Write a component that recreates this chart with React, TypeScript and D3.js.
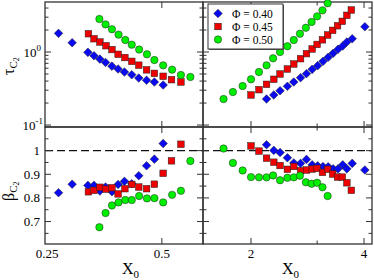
import * as d3 from "d3";

// X0 values (left panel: small X0, right panel: large X0)
const xBlueL = [0.268, 0.291, 0.32, 0.332, 0.344, 0.356, 0.37, 0.384, 0.399, 0.417, 0.435, 0.456, 0.478, 0.504];
const tauBlueL = [1.8, 1.34, 0.99, 0.89, 0.8, 0.72, 0.64, 0.585, 0.532, 0.489, 0.44, 0.41, 0.388, 0.353];
const betaBlueL = [0.822, 0.858, 0.853, 0.853, 0.829, 0.846, 0.826, 0.857, 0.87, 0.86, 0.894, 0.936, 0.964, 1.03];

const xRedL = [0.321, 0.332, 0.344, 0.357, 0.37, 0.384, 0.4, 0.417, 0.435, 0.456, 0.478, 0.504, 0.53, 0.561];
const tauRedL = [1.78, 1.52, 1.37, 1.22, 1.08, 0.93, 0.84, 0.745, 0.66, 0.57, 0.51, 0.465, 0.418, 0.388];
const betaRedL = [0.826, 0.832, 0.845, 0.837, 0.843, 0.817, 0.839, 0.857, 0.846, 0.839, 0.858, 0.904, 0.957, 1.027];

const xGreenL = [0.343, 0.356, 0.37, 0.385, 0.401, 0.417, 0.436, 0.457, 0.478, 0.504, 0.532, 0.561, 0.594];
const tauGreenL = [2.83, 2.39, 2.05, 1.73, 1.46, 1.26, 1.08, 0.93, 0.777, 0.657, 0.573, 0.484, 0.455];
const betaGreenL = [0.676, 0.736, 0.768, 0.781, 0.791, 0.791, 0.808, 0.798, 0.799, 0.781, 0.813, 0.83, 0.956];

const xBlueR = [2.2, 2.3, 2.39, 2.5, 2.6, 2.71, 2.81, 2.91, 3.01, 3.11, 3.21, 3.31, 3.41, 3.51, 3.6, 3.72, 4.02];
const tauBlueR = [0.227, 0.258, 0.295, 0.339, 0.388, 0.445, 0.505, 0.579, 0.65, 0.745, 0.846, 0.96, 1.09, 1.21, 1.37, 1.52, 2.22];
const betaBlueR = [1.025, 1.001, 0.992, 0.97, 0.948, 0.946, 0.963, 0.94, 0.936, 0.933, 0.932, 0.923, 0.923, 0.94, 0.923, 0.946, 0.918];

const xRedR = [2.0, 2.1, 2.2, 2.3, 2.39, 2.5, 2.6, 2.71, 2.81, 2.91, 3.0, 3.1, 3.2, 3.3, 3.4, 3.5, 3.6, 3.7];
const tauRedR = [0.258, 0.305, 0.361, 0.423, 0.5, 0.585, 0.685, 0.81, 0.95, 1.1, 1.27, 1.47, 1.71, 1.98, 2.29, 2.63, 3.18, 3.76];
const betaRedR = [1.02, 0.998, 0.968, 0.951, 0.937, 0.921, 0.933, 0.915, 0.918, 0.922, 0.925, 0.908, 0.921, 0.901, 0.888, 0.888, 0.864, 0.832];

const xGreenR = [1.69, 1.79, 1.9, 2.0, 2.1, 2.2, 2.29, 2.39, 2.5, 2.6, 2.7, 2.8, 2.9, 3.0, 3.1, 3.2];
const tauGreenR = [0.227, 0.283, 0.342, 0.423, 0.532, 0.657, 0.82, 1.0, 1.2, 1.46, 1.78, 2.15, 2.58, 3.08, 3.72, 4.65];
const betaGreenR = [1.009, 0.948, 0.916, 0.888, 0.887, 0.887, 0.895, 0.875, 0.885, 0.887, 0.894, 0.866, 0.86, 0.864, 0.845, 0.808];

const legendLabels = ["\u03a6 = 0.40", "\u03a6 = 0.45", "\u03a6 = 0.50"];
const xTicksL = [0.25, 0.5];
const xTicksR = [2, 4];
const xMinorR = [3];
const yMajorT = [0.1, 1];
const yMinorT = [0.2, 0.3, 0.4, 0.5, 0.6, 0.7, 0.8, 0.9, 2, 3, 4];
const yMajorB = [0.7, 0.8, 0.9, 1];
const yMinorB = [0.65, 0.75, 0.85, 0.95, 1.05];

const FONT = "'Liberation Serif', 'DejaVu Serif', serif";
const AX = "#333";

const L0 = 45, MID = 203, R1 = 372;
const T0 = 2, SEP = 127, B1 = 244;

const xL = d3.scaleLog().domain([0.247, 0.641]).range([L0, MID]);
const xR = d3.scaleLog().domain([1.49, 4.2]).range([MID, R1]);
const yT = d3.scaleLog().domain([0.094, 4.84]).range([SEP, T0]);
const yB = d3.scaleLinear().domain([0.605, 1.1]).range([B1, SEP]);

type Kind = "d" | "s" | "c";
const fills: Record<Kind, string> = { d: "#0a0af0", s: "#ee0000", c: "#00ee00" };

function Marker({ kind, x, y }: { kind: Kind; x: number; y: number }) {
  const st = { fill: fills[kind], stroke: "#222", strokeWidth: 0.5 };
  if (kind === "d") {
    const r = 4.3;
    return <path d={`M${x},${y - r}L${x + r},${y}L${x},${y + r}L${x - r},${y}Z`} {...st} />;
  }
  if (kind === "s") {
    const h = 3.3;
    return <rect x={x - h} y={y - h} width={2 * h} height={2 * h} {...st} />;
  }
  return <circle cx={x} cy={y} r={3.7} {...st} />;
}

function Series({ xs, ys, sx, sy, kind }: { xs: number[]; ys: number[]; sx: any; sy: any; kind: Kind }) {
  return (
    <g>
      {xs.map((v, i) => (
        <Marker key={i} kind={kind} x={sx(v)} y={sy(ys[i])} />
      ))}
    </g>
  );
}

// panel box with inward ticks on all four sides
function Frame({ sx, sy, xMaj, xMin, yMaj, yMin }: any) {
  const [x0, x1] = sx.range();
  const [y0, y1] = sy.range();
  const lines: any[] = [];
  const tick = (key: string, xa: number, ya: number, xb: number, yb: number) =>
    lines.push(<line key={key} x1={xa} y1={ya} x2={xb} y2={yb} stroke={AX} strokeWidth={1} />);
  xMaj.forEach((v: number, i: number) => {
    tick(`xM${i}`, sx(v), y0, sx(v), y0 - 6);
    tick(`xMt${i}`, sx(v), y1, sx(v), y1 + 6);
  });
  xMin.forEach((v: number, i: number) => {
    tick(`xm${i}`, sx(v), y0, sx(v), y0 - 3.5);
    tick(`xmt${i}`, sx(v), y1, sx(v), y1 + 3.5);
  });
  yMaj.forEach((v: number, i: number) => {
    tick(`yM${i}`, x0, sy(v), x0 + 6, sy(v));
    tick(`yMr${i}`, x1, sy(v), x1 - 6, sy(v));
  });
  yMin.forEach((v: number, i: number) => {
    tick(`ym${i}`, x0, sy(v), x0 + 3.5, sy(v));
    tick(`ymr${i}`, x1, sy(v), x1 - 3.5, sy(v));
  });
  return (
    <g>
      {lines}
      <rect x={x0} y={y1} width={x1 - x0} height={y0 - y1} fill="none" stroke={AX} strokeWidth={1.3} />
    </g>
  );
}

export default function App() {
  return (
    <svg
      width={374}
      height={280}
      style={{ position: "absolute", left: 0, top: 0, background: "#fff" }}
      fontFamily={FONT}
    >
      <defs>
        <clipPath id="clipTR"><rect x={MID} y={0} width={R1 - MID} height={SEP} /></clipPath>
      </defs>

      {/* dashed reference line at beta = 1 */}
      <line x1={L0} x2={R1} y1={yB(1)} y2={yB(1)} stroke="#111" strokeWidth={1.3} strokeDasharray="8,4" />

      <Frame sx={xL} sy={yT} xMaj={[0.5]} xMin={[]} yMaj={yMajorT} yMin={yMinorT} />
      <Frame sx={xR} sy={yT} xMaj={xTicksR} xMin={xMinorR} yMaj={yMajorT} yMin={yMinorT} />
      <Frame sx={xL} sy={yB} xMaj={[0.5]} xMin={[]} yMaj={yMajorB} yMin={yMinorB} />
      <Frame sx={xR} sy={yB} xMaj={xTicksR} xMin={xMinorR} yMaj={yMajorB} yMin={yMinorB} />

      {/* tau panels */}
      <Series xs={xBlueL} ys={tauBlueL} sx={xL} sy={yT} kind="d" />
      <Series xs={xRedL} ys={tauRedL} sx={xL} sy={yT} kind="s" />
      <Series xs={xGreenL} ys={tauGreenL} sx={xL} sy={yT} kind="c" />
      <g clipPath="url(#clipTR)">
        <Series xs={xBlueR} ys={tauBlueR} sx={xR} sy={yT} kind="d" />
        <Series xs={xRedR} ys={tauRedR} sx={xR} sy={yT} kind="s" />
        <Series xs={xGreenR} ys={tauGreenR} sx={xR} sy={yT} kind="c" />
      </g>
      {/* beta panels */}
      <Series xs={xBlueL} ys={betaBlueL} sx={xL} sy={yB} kind="d" />
      <Series xs={xRedL} ys={betaRedL} sx={xL} sy={yB} kind="s" />
      <Series xs={xGreenL} ys={betaGreenL} sx={xL} sy={yB} kind="c" />
      <Series xs={xBlueR} ys={betaBlueR} sx={xR} sy={yB} kind="d" />
      <Series xs={xRedR} ys={betaRedR} sx={xR} sy={yB} kind="s" />
      <Series xs={xGreenR} ys={betaGreenR} sx={xR} sy={yB} kind="c" />

      {/* y tick labels top */}
      <text x={41} y={yT(1) + 5} textAnchor="end" fontSize={13}>
        10<tspan dy={-6} fontSize={9}>0</tspan>
      </text>
      <text x={43} y={yT(0.1) + 5} textAnchor="end" fontSize={13}>
        10<tspan dy={-6} fontSize={9}>-1</tspan>
      </text>
      {/* y tick labels bottom */}
      {yMajorB.map((v) => (
        <text key={v} x={40} y={yB(v) + 4.5} textAnchor="end" fontSize={13}>
          {v === 1 ? "1" : d3.format(".1f")(v)}
        </text>
      ))}
      {/* x tick labels */}
      {xTicksL.map((v) => (
        <text key={v} x={xL(v)} y={258} textAnchor="middle" fontSize={13}>
          {String(v)}
        </text>
      ))}
      {xTicksR.map((v) => (
        <text key={v} x={xR(v)} y={258} textAnchor="middle" fontSize={13}>
          {String(v)}
        </text>
      ))}

      {/* axis titles */}
      <text x={122} y={274} fontSize={16}>
        X<tspan dy={4} fontSize={11}>0</tspan>
      </text>
      <text x={282} y={274} fontSize={16}>
        X<tspan dy={4} fontSize={11}>0</tspan>
      </text>
      <text transform="translate(14,75) rotate(-90)" fontSize={16}>
        {"\u03c4"}
        <tspan dy={3} fontSize={11}>C</tspan>
        <tspan dy={2} fontSize={8}>2</tspan>
      </text>
      <text transform="translate(14,201) rotate(-90)" fontSize={16}>
        {"\u03b2"}
        <tspan dy={3} fontSize={11}>C</tspan>
        <tspan dy={2} fontSize={8}>2</tspan>
      </text>

      {/* legend */}
      <g>
        <rect x={209} y={5} width={75} height={45} fill="#555" />
        <rect x={208} y={4} width={75} height={45} fill="#fff" stroke="#333" strokeWidth={1} />
        {(["d", "s", "c"] as Kind[]).map((k, i) => (
          <g key={k}>
            <Marker kind={k} x={218} y={13.5 + i * 13} />
            <text x={232} y={13.5 + i * 13 + 4} fontSize={11.5}>
              {legendLabels[i]}
            </text>
          </g>
        ))}
      </g>
    </svg>
  );
}
